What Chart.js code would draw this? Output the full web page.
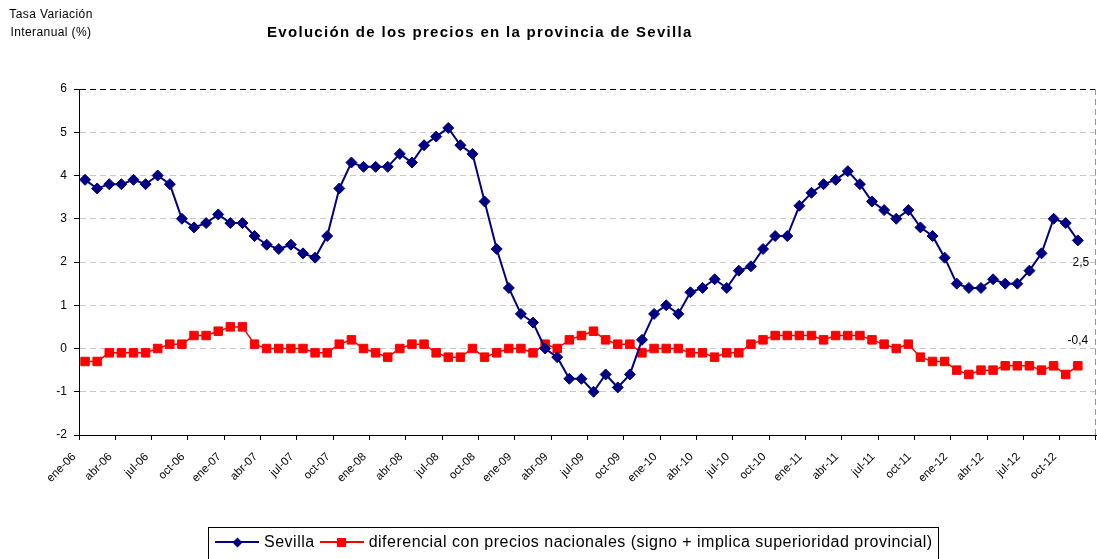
<!DOCTYPE html>
<html>
<head>
<meta charset="utf-8">
<script src="https://cdn.jsdelivr.net/npm/chart.js@4.4.1/dist/chart.umd.min.js"></script>
<style>
  body { margin: 0; background: #fff; font-family: "Liberation Sans", Arial, sans-serif; color: #000; }
  #wrap { position: relative; width: 1097px; height: 559px; overflow: hidden; }
  #chart { position: absolute; left: 0; top: 0; }
  .ytitle { position: absolute; left: 2px; top: 5px; width: 98px; text-align: center; font-size: 12px; line-height: 18px; letter-spacing: 0.4px; }
  .title { position: absolute; left: 267px; top: 23px; font-size: 15px; font-weight: bold; letter-spacing: 1.3px; white-space: nowrap; }
  .legend { position: absolute; left: 208px; top: 527px; width: 731px; height: 34px; border: 1px solid #000;
            box-sizing: border-box; display: flex; align-items: center; padding: 0 0 4px 6px; font-size: 16px; letter-spacing: 0.5px; white-space: nowrap; }
  .sample { position: relative; display: inline-block; width: 44px; height: 2px; margin-right: 5px; }
  .sample i { position: absolute; left: 50%; top: 50%; }
  .diamond { width: 7px; height: 7px; margin: -3.5px 0 0 -3.5px; transform: rotate(45deg); background: #000080; }
  .square { width: 9px; height: 9px; margin: -4.5px 0 0 -4.5px; background: #ff0000; }
</style>
</head>
<body>
<div id="wrap">
  <canvas id="chart" width="1097" height="559"></canvas>
  <div class="ytitle">Tasa Variación<br>Interanual (%)</div>
  <div class="title">Evolución de los precios en la provincia de Sevilla</div>
  <div class="legend">
    <span class="sample" style="background:#000080"><i class="diamond"></i></span>Sevilla
    <span class="sample" style="background:#ff0000; margin-left:5px"><i class="square"></i></span>diferencial con precios nacionales (signo + implica superioridad provincial)
  </div>
</div>
<script>
// meses ene-06 .. dic-12 (dic-12 sin dato)
const months = ['ene', 'feb', 'mar', 'abr', 'may', 'jun', 'jul', 'ago', 'sep', 'oct', 'nov', 'dic'];
const years = ['06', '07', '08', '09', '10', '11', '12'];
const labels = years.flatMap(y => months.map(m => m + '-' + y));

const sevilla = [
  3.9, 3.7, 3.8, 3.8, 3.9, 3.8, 4.0, 3.8, 3.0, 2.8, 2.9, 3.1,
  2.9, 2.9, 2.6, 2.4, 2.3, 2.4, 2.2, 2.1, 2.6, 3.7, 4.3, 4.2,
  4.2, 4.2, 4.5, 4.3, 4.7, 4.9, 5.1, 4.7, 4.5, 3.4, 2.3, 1.4,
  0.8, 0.6, 0.0, -0.2, -0.7, -0.7, -1.0, -0.6, -0.9, -0.6, 0.2, 0.8,
  1.0, 0.8, 1.3, 1.4, 1.6, 1.4, 1.8, 1.9, 2.3, 2.6, 2.6, 3.3,
  3.6, 3.8, 3.9, 4.1, 3.8, 3.4, 3.2, 3.0, 3.2, 2.8, 2.6, 2.1,
  1.5, 1.4, 1.4, 1.6, 1.5, 1.5, 1.8, 2.2, 3.0, 2.9, 2.5
];
const diferencial = [
  -0.3, -0.3, -0.1, -0.1, -0.1, -0.1, 0.0, 0.1, 0.1, 0.3, 0.3, 0.4,
  0.5, 0.5, 0.1, 0.0, 0.0, 0.0, 0.0, -0.1, -0.1, 0.1, 0.2, 0.0,
  -0.1, -0.2, 0.0, 0.1, 0.1, -0.1, -0.2, -0.2, 0.0, -0.2, -0.1, 0.0,
  0.0, -0.1, 0.1, 0.0, 0.2, 0.3, 0.4, 0.2, 0.1, 0.1, -0.1, 0.0,
  0.0, 0.0, -0.1, -0.1, -0.2, -0.1, -0.1, 0.1, 0.2, 0.3, 0.3, 0.3,
  0.3, 0.2, 0.3, 0.3, 0.3, 0.2, 0.1, 0.0, 0.1, -0.2, -0.3, -0.3,
  -0.5, -0.6, -0.5, -0.5, -0.4, -0.4, -0.4, -0.5, -0.4, -0.6, -0.4
];
const yTicks = [-2, -1, 0, 1, 2, 3, 4, 5, 6];

// etiqueta con el ultimo valor de cada serie
const labelShift = [[3, 22], [0, -25]];
const lastValueLabels = {
  id: 'lastValueLabels',
  afterDatasetsDraw(chart) {
    const ctx = chart.ctx;
    ctx.save();
    ctx.font = '12px "Liberation Sans", Arial, sans-serif';
    ctx.fillStyle = '#000';
    ctx.textAlign = 'center';
    ctx.textBaseline = 'middle';
    chart.data.datasets.forEach((ds, i) => {
      const n = ds.data.length - 1;
      const pt = chart.getDatasetMeta(i).data[n];
      ctx.fillText(ds.data[n].toFixed(1).replace('.', ','), pt.x + labelShift[i][0], pt.y + labelShift[i][1]);
    });
    ctx.restore();
  }
};

// borde derecho discontinuo del area de trazado
const rightBorder = {
  id: 'rightBorder',
  beforeDatasetsDraw(chart) {
    const { ctx, chartArea } = chart;
    ctx.save();
    ctx.strokeStyle = '#9a9a9a';
    ctx.lineWidth = 1;
    ctx.setLineDash([6, 4]);
    ctx.beginPath();
    ctx.moveTo(chartArea.right - 0.5, chartArea.top);
    ctx.lineTo(chartArea.right - 0.5, chartArea.bottom);
    ctx.stroke();
    ctx.restore();
  }
};

const font = { family: '"Liberation Sans", Arial, sans-serif' };

new Chart(document.getElementById('chart').getContext('2d'), {
  type: 'line',
  data: {
    labels: labels,
    datasets: [
      {
        label: 'Sevilla',
        data: sevilla,
        borderColor: '#000080',
        backgroundColor: '#000080',
        borderWidth: 2,
        pointStyle: 'rectRot',
        pointRadius: 5.5,
        pointBorderWidth: 1,
        tension: 0
      },
      {
        label: 'diferencial con precios nacionales (signo + implica superioridad provincial)',
        data: diferencial,
        borderColor: '#ff0000',
        backgroundColor: '#ff0000',
        borderWidth: 1.5,
        pointStyle: 'rect',
        pointRadius: 6,
        pointBorderWidth: 1,
        tension: 0
      }
    ]
  },
  options: {
    responsive: false,
    animation: false,
    events: [],
    layout: { autoPadding: false, padding: { top: 89, right: 1, left: 0, bottom: 0 } },
    plugins: {
      legend: { display: false },
      title: { display: false },
      tooltip: { enabled: false }
    },
    scales: {
      x: {
        offset: true,
        grid: {
          offset: true,
          drawOnChartArea: false,
          tickLength: 5,
          tickColor: c => (c.index === undefined || c.index % 3 === 0) ? '#000' : 'rgba(0,0,0,0)'
        },
        border: { color: '#000', width: 1 },
        ticks: {
          autoSkip: false,
          minRotation: 45,
          maxRotation: 45,
          labelOffset: -11,
          padding: 10,
          color: '#000',
          font: { ...font, size: 11.5 },
          callback: (v, i) => i % 3 === 0 ? labels[i] : ''
        },
        afterFit: s => { s.height = 124; s.paddingLeft = 0; s.paddingRight = 0; }
      },
      y: {
        min: yTicks[0],
        max: yTicks[yTicks.length - 1],
        afterBuildTicks: s => { s.ticks = yTicks.map(v => ({ value: v })); },
        grid: {
          color: c => c.tick && c.tick.value === 6 ? '#000' : '#c8c8c8',
          tickColor: '#000',
          tickLength: 5
        },
        border: { color: '#000', width: 1, dash: [6, 4] },
        ticks: {
          padding: 7,
          color: '#000',
          font: { ...font, size: 12 }
        },
        afterFit: s => { s.width = 79; }
      }
    }
  },
  plugins: [rightBorder, lastValueLabels]
});
</script>
</body>
</html>
